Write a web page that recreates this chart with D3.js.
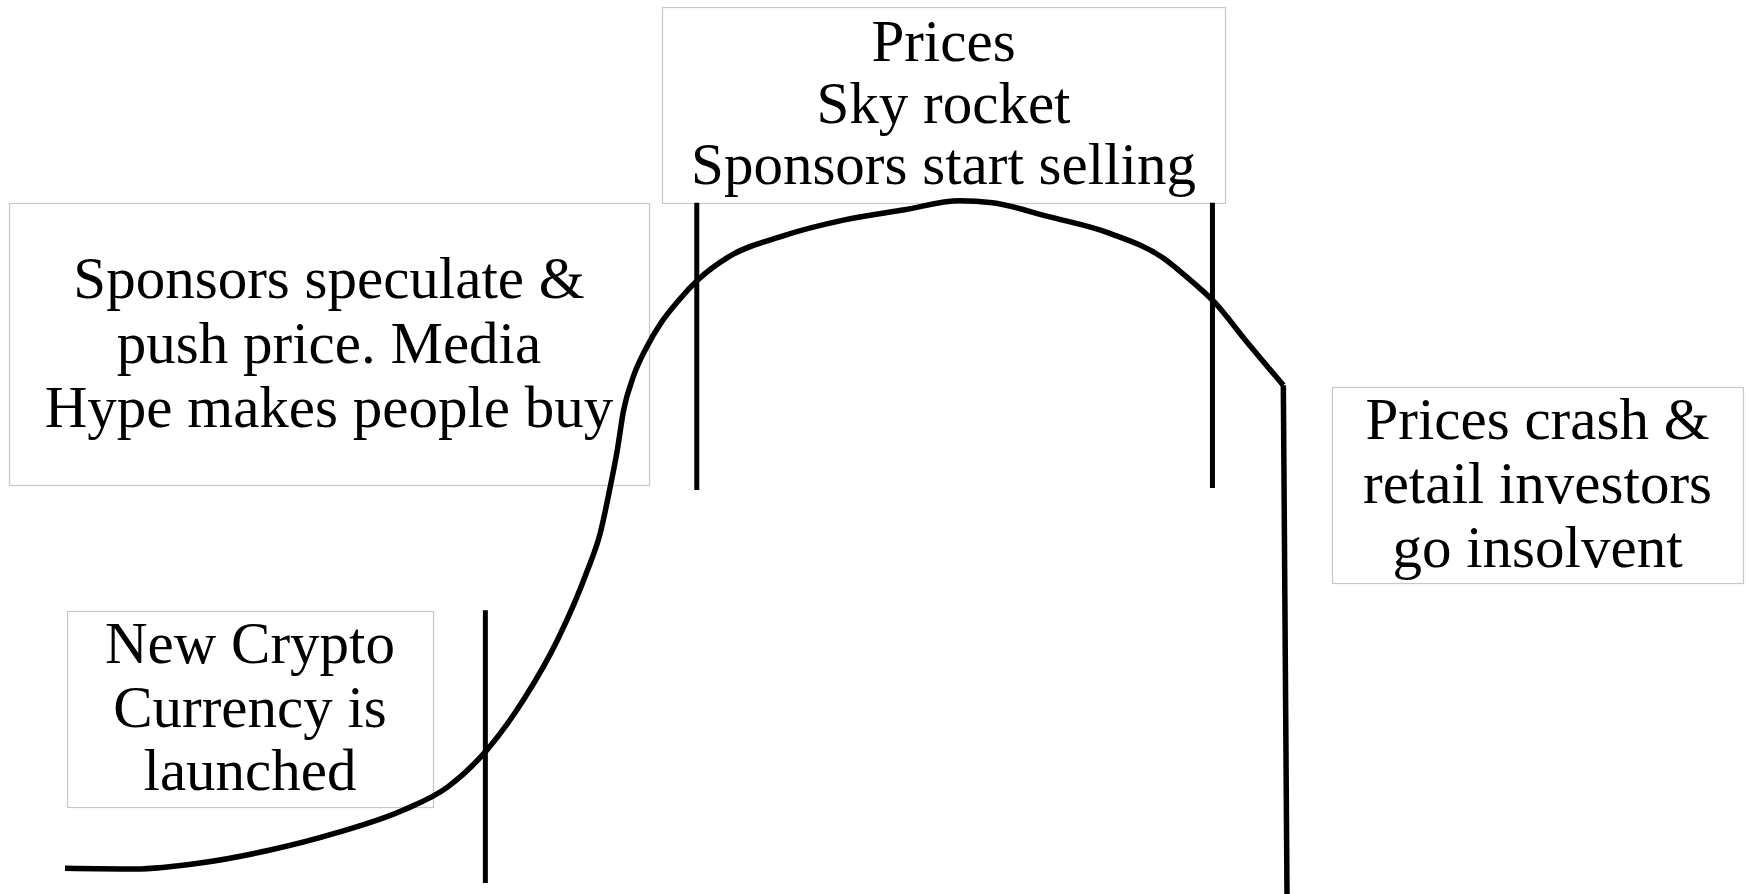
<!DOCTYPE html>
<head>
<meta charset="utf-8">
<title>Crypto Hype Cycle</title>
<script src="https://d3js.org/d3.v7.min.js"></script>
<style>
body { margin: 0; background: #fff; }
.curve { fill: none; stroke: #000; stroke-width: 5.5; stroke-linejoin: round; }
.marker { stroke: #000; stroke-width: 5; }
.box { fill: #fff; stroke: #c8c8c8; stroke-width: 1.2; }
.label { font-family: "Liberation Serif", "Times New Roman", serif; font-size: 59px; fill: #000; text-anchor: middle; }
</style>
</head>
<body>
<div id="container"></div>
<script>
//------------------------1. DATA------------------------//
// time (0-100) / price (0-100)
const curveTime  = [0, 5.7, 11.2, 16.7, 22.2, 27.7, 31.3, 34.5, 37.6, 40.3, 42.7, 43.8, 44.6, 45.2, 45.7,
                    46.5, 47.6, 48.7, 50.3, 51.8, 54.3, 58.7, 63.7, 68.7, 73.2, 75.9, 80.5, 85.5, 89.9,
                    91.6, 94.1, 96.6, 99.7];
const curvePrice = [3.7, 3.6, 4.5, 6.3, 8.8, 12.1, 15.4, 20.7, 28.2, 36.6, 46.4, 52.0, 58.5, 64.0, 69.6,
                    74.5, 78.8, 82.1, 85.7, 88.5, 91.8, 94.8, 97.1, 98.6, 99.9, 99.6, 97.6, 95.2, 91.6,
                    89.2, 85.2, 79.8, 73.3];
const crashTime  = [99.7, 100];
const crashPrice = [73.3, 0];

const markerTime   = [34.4, 51.7, 93.9];
const markerTop    = [40.9, 99.6, 99.6];
const markerBottom = [1.6, 58.2, 58.5];

const phaseText = [
  ["New Crypto", "Currency is", "launched"],
  ["Sponsors speculate &", "push price. Media", "Hype makes people buy"],
  ["Prices", "Sky rocket", "Sponsors start selling"],
  ["Prices crash &", "retail investors", "go insolvent"]
];

//------------------------2. SVG------------------------//
const width = 1746;
const height = 894;

const svg = d3.select("#container").append("svg")
    .attr("width", width)
    .attr("height", height);

const xScale = d3.scaleLinear().domain([0, 100]).range([65, 1287]);
const yScale = d3.scaleLinear().domain([0, 100]).range([894, 200]);

const line = d3.line()
    .x(function(d) { return xScale(d[0]); })
    .y(function(d) { return yScale(d[1]); });

//------------------------3. BOXES------------------------//
// box layout in pixels: x, y, w, h, baseline of first line, line step
const boxLayout = [
  {x: 67,   y: 611, w: 366, h: 196, top: 663, step: 63.5},
  {x: 9,    y: 203, w: 640, h: 282, top: 298, step: 64.5},
  {x: 662,  y: 7,   w: 563, h: 196, top: 61,  step: 61.5},
  {x: 1332, y: 387, w: 411, h: 196, top: 439, step: 64}
];

const boxes = svg.selectAll("g.phase")
    .data(phaseText)
    .enter()
    .append("g")
    .attr("class", "phase");

boxes.append("rect")
    .attr("class", "box")
    .attr("x", function(d, i) { return boxLayout[i].x + 0.5; })
    .attr("y", function(d, i) { return boxLayout[i].y + 0.5; })
    .attr("width", function(d, i) { return boxLayout[i].w; })
    .attr("height", function(d, i) { return boxLayout[i].h; });

boxes.each(function(lines, i) {
    const b = boxLayout[i];
    d3.select(this).selectAll("text")
        .data(lines)
        .enter()
        .append("text")
        .attr("class", "label")
        .attr("x", b.x + b.w / 2)
        .attr("y", function(d, j) { return b.top + j * b.step; })
        .text(function(d) { return d; });
});

//------------------------4. LINES------------------------//
svg.selectAll("line.marker")
    .data(markerTime)
    .enter()
    .append("line")
    .attr("class", "marker")
    .attr("x1", function(d) { return xScale(d); })
    .attr("x2", function(d) { return xScale(d); })
    .attr("y1", function(d, i) { return yScale(markerTop[i]); })
    .attr("y2", function(d, i) { return yScale(markerBottom[i]); });

const curvePts = curveTime.map(function(t, i) { return [t, curvePrice[i]]; });
const crashPts = crashTime.map(function(t, i) { return [t, crashPrice[i]]; });

svg.append("path")
    .attr("class", "curve")
    .attr("d", line.curve(d3.curveMonotoneX)(curvePts));

svg.append("path")
    .attr("class", "curve")
    .attr("d", line.curve(d3.curveLinear)(crashPts));
</script>
</body>
